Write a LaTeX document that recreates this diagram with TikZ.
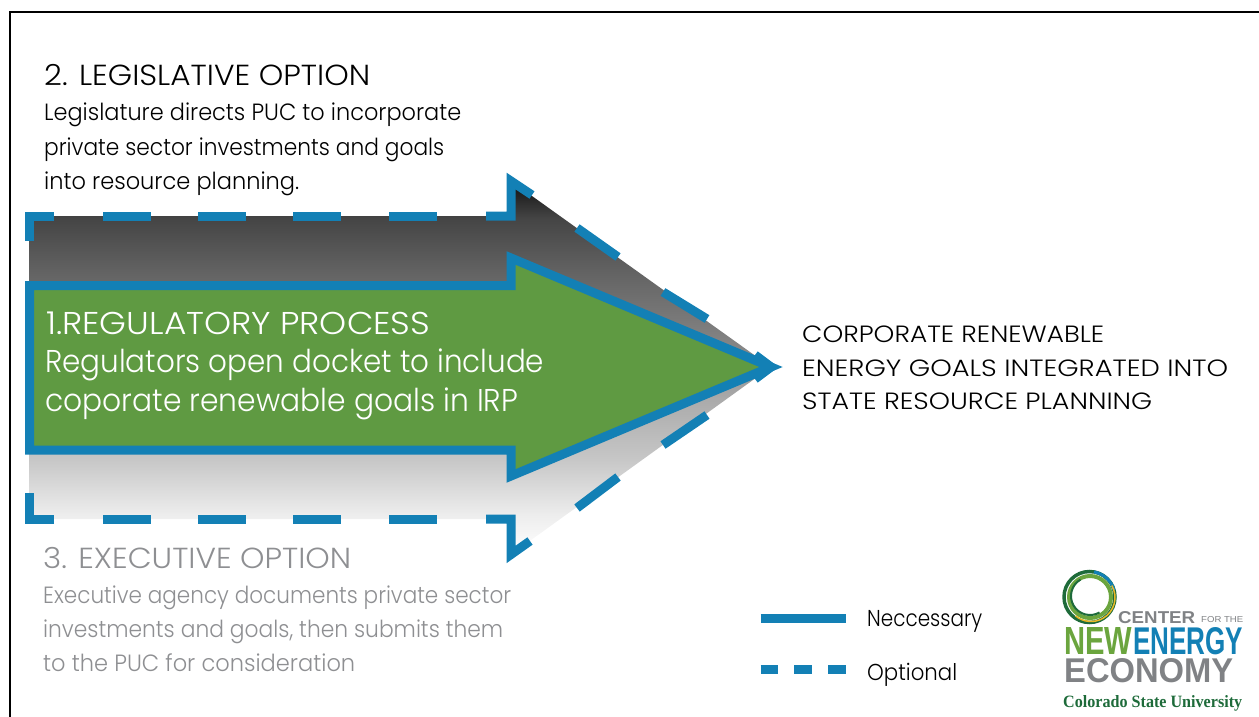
\documentclass[tikz,border=0pt]{standalone}
\usepackage{fontspec}
\usepackage{graphicx}
\setmainfont{Poppins Light}
\newfontfamily\logofont{Liberation Sans}
\newfontfamily\univfont{Liberation Serif}
\newcommand{\fitline}[2]{\resizebox{#1pt}{\height}{#2}}
\definecolor{pipeblue}{HTML}{1380B5}
\definecolor{arrowgreen}{HTML}{5F9A42}
\definecolor{optgray}{HTML}{8E8F92}
\definecolor{logogreen}{HTML}{6BA53E}
\definecolor{logodark}{HTML}{1E6B3A}
\definecolor{logoyellow}{HTML}{E8B825}
\definecolor{logogray}{HTML}{808285}
\pgfdeclareverticalshading{optshade}{100bp}{
  color(0bp)=(white); color(25bp)=(white); color(30.3bp)=(black!7);
  color(37.7bp)=(black!22); color(45.7bp)=(black!33); color(52.4bp)=(black!47);
  color(62bp)=(black!60); color(70bp)=(black!73); color(74bp)=(black!90); color(100bp)=(black!90)}
\tikzset{
  necessary/.style={draw=pipeblue,line width=9pt,miter limit=10},
  optional/.style={draw=pipeblue,line width=9pt,miter limit=10},
  heading/.style={anchor=base west,inner sep=0pt,font=\fontsize{29}{29}\selectfont},
  bodytext/.style={anchor=base west,inner sep=0pt,font=\fontsize{23.5}{23.5}\selectfont},
  bigtext/.style={anchor=base west,inner sep=0pt,text=white,font=\fontsize{31.5}{31.5}\selectfont},
  legendtext/.style={anchor=base west,inner sep=0pt,font=\fontsize{23}{23}\selectfont},
  logotext/.style={anchor=south west,inner sep=0pt}
}
\begin{document}
\begin{tikzpicture}[x=1pt,y=-1pt]
  \useasboundingbox (0,0) rectangle (1259,717);
  \draw[line width=2.5pt] (10,717) -- (10,12) -- (1259,12);
  % optional arrow fill
  \shade[shading=optshade] (29.7,216) -- (511,216) -- (511,181) -- (771,367) -- (511,554.5) -- (511,519) -- (29.7,519) -- cycle;
  % regulatory arrow
  \path[necessary,fill=arrowgreen] (29.7,285.5) -- (511,285.5) -- (511,258) -- (771,367) -- (511,476) -- (511,450) -- (29.7,450) -- cycle;
  % dashes of the optional arrow
  \draw[optional] (54,216) -- (29.7,216) -- (29.7,241);
  \draw[optional] (54,519) -- (29.7,519) -- (29.7,493);
  \foreach \x in {103,198,293,389} {
    \draw[optional] (\x,216) -- ++(48,0);
    \draw[optional] (\x,519) -- ++(48,0);
  }
  \draw[optional] (486,216) -- (511,216) -- (511,181) -- (532,195);
  \draw[optional] (486,519) -- (511,519) -- (511,554.5) -- (530,541);
  \draw[optional] (577,228) -- (618,257);
  \draw[optional] (663,292) -- (707,319);
  \draw[optional] (755,355) -- (771,367) -- (755,379);
  \draw[optional] (707,415) -- (663,445);
  \draw[optional] (618,477) -- (577,508);
  % texts
  \node[heading] (legtitle) at (44,86) {\fitline{326}{2. LEGISLATIVE OPTION}};
  \node[bodytext] (legone) at (44,121) {\fitline{417}{Legislature directs PUC to incorporate}};
  \node[bodytext] (legtwo) at (44,155) {\fitline{400}{private sector investments and goals}};
  \node[bodytext] (legthree) at (44,189) {\fitline{255}{into resource planning.}};
  \node[bigtext] (regtitle) at (46,334) {\fitline{384}{1.REGULATORY PROCESS}};
  \node[bigtext] (regone) at (45,372) {\fitline{499}{Regulators open docket to include}};
  \node[bigtext] (regtwo) at (45,411) {\fitline{473}{coporate renewable goals in IRP}};
  \node[heading,text=optgray] (exectitle) at (43,568) {\fitline{308}{3. EXECUTIVE OPTION}};
  \node[bodytext,text=optgray] (execone) at (43,603) {\fitline{468}{Executive agency documents private sector}};
  \node[bodytext,text=optgray] (exectwo) at (43,637) {\fitline{460}{investments and goals, then submits them}};
  \node[bodytext,text=optgray] (execthree) at (43,671) {\fitline{312}{to the PUC for consideration}};
  \node[bodytext] (goalone) at (802,342) {\fitline{302}{CORPORATE RENEWABLE}};
  \node[bodytext] (goaltwo) at (802,376) {\fitline{426}{ENERGY GOALS INTEGRATED INTO}};
  \node[bodytext] (goalthree) at (802,409) {\fitline{350}{STATE RESOURCE PLANNING}};
  % legend
  \coordinate (neca) at (760.7,618.3);
  \coordinate (necb) at (845.7,618.3);
  \draw[necessary] (neca) -- (necb);
  \foreach \x in {760.7,794.3,828.3} \draw[optional] (\x,669.6) -- ++(17.4,0);
  \node[legendtext] (necessary) at (867,626) {\fitline{115}{Neccessary}};
  \node[legendtext] (optional) at (867,680) {\fitline{90}{Optional}};
  % logo
  \draw[logodark,line width=3.5pt] (1089.5,597) circle (25.5);
  \draw[pipeblue,line width=3pt] (1089.5,597) ++(-80:25.5) arc[start angle=-80,end angle=-15,radius=25.5];
  \draw[logogreen,line width=4pt] (1090,597) circle (21);
  \draw[logoyellow,line width=1.5pt] (1091,597.5) ++(-30:24) arc[start angle=-30,end angle=130,radius=24];
  \draw[logodark,line width=2pt] (1090,596) ++(60:19) arc[start angle=60,end angle=240,radius=19];
  \node[logotext,text=logogray] (center) at (1118,624) {\resizebox{77pt}{12pt}{\logofont\bfseries CENTER}};
  \node[logotext,text=logogray] (forthe) at (1201,623) {\resizebox{42pt}{6pt}{\logofont FOR THE}};
  \node[logotext,text=logogreen] (new) at (1064,655) {\resizebox{68pt}{27pt}{\logofont\bfseries NEW}};
  \node[logotext,text=pipeblue] (energy) at (1133,655) {\resizebox{110pt}{27pt}{\logofont\bfseries ENERGY}};
  \node[logotext,text=logogray] (economy) at (1064,683) {\resizebox{169pt}{24pt}{\logofont\bfseries ECONOMY}};
  \node[logotext,text=logodark,anchor=base west] (univ) at (1063,707) {\resizebox{179pt}{12pt}{\univfont\bfseries Colorado State University}};
\end{tikzpicture}
\end{document}
